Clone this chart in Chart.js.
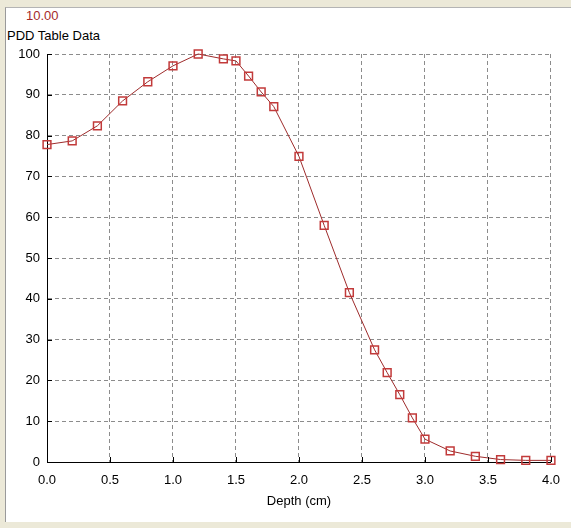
<!DOCTYPE html>
<html lang="en">
<head>
  <meta charset="UTF-8" />
  <title>PDD Table Data</title>
  <style>
    body {
      margin: 0;
      padding: 0;
      font-family: "Liberation Sans", Arial, Helvetica, sans-serif;
      font-size: 13px;
    }
    .frame {
      position: relative;
      width: 571px;
      height: 528px;
      background: #ece9d8;
      overflow: hidden;
    }
    .panel {
      position: absolute;
      left: 5px;
      top: 7px;
      width: 566px;
      height: 515px;
      background: #fff;
      border-left: 1px solid #9a9a9a;
      border-top: 1px solid #b4b4b4;
      box-sizing: border-box;
    }
    .label {
      position: absolute;
      line-height: 15px;
      white-space: nowrap;
    }
    #value { left: 26px; top: 8px; color: #a52a2a; }
    #name { left: 7px; top: 28px; color: #000; }
    canvas {
      position: absolute;
      left: 0;
      top: 0;
    }
  </style>
</head>
<body>
  <div class="frame">
    <div class="panel"></div>
    <div class="label" id="value">10.00</div>
    <div class="label" id="name">PDD Table Data</div>
    <canvas id="chart" width="571" height="528"></canvas>
  </div>

  <script src="https://cdn.jsdelivr.net/npm/chart.js"></script>
  <script>
    // depth in cm and percent depth dose
    const depth = [0, 0.2, 0.4, 0.6, 0.8, 1.0, 1.2, 1.4, 1.5, 1.6, 1.7, 1.8, 2.0,
                   2.2, 2.4, 2.6, 2.7, 2.8, 2.9, 3.0, 3.2, 3.4, 3.6, 3.8, 4.0];
    const dose = [77.8, 78.7, 82.4, 88.5, 93.2, 97.1, 100, 98.8, 98.3, 94.6, 90.7, 87.1, 74.9,
                  58.0, 41.5, 27.5, 21.9, 16.5, 10.8, 5.6, 2.7, 1.4, 0.6, 0.4, 0.4];
    const xTicks = [0, 0.5, 1.0, 1.5, 2.0, 2.5, 3.0, 3.5, 4.0];
    const yTicks = [0, 10, 20, 30, 40, 50, 60, 70, 80, 90, 100];

    Chart.defaults.font.family = '"Liberation Sans", Arial, sans-serif';
    Chart.defaults.font.size = 13;
    Chart.defaults.color = '#000';

    // short solid tick marks drawn inside the plot, like the original control
    const innerTicks = {
      id: 'innerTicks',
      afterDraw(chart) {
        const ctx = chart.ctx;
        const area = chart.chartArea;
        const xs = chart.scales.x, ys = chart.scales.y;
        ctx.save();
        ctx.strokeStyle = '#000';
        ctx.lineWidth = 1;
        ctx.beginPath();
        xTicks.forEach(v => {
          const px = Math.round(xs.getPixelForValue(v)) + 0.5;
          ctx.moveTo(px, area.bottom);
          ctx.lineTo(px, area.bottom - 5);
        });
        yTicks.forEach(v => {
          const py = Math.round(ys.getPixelForValue(v)) + 0.5;
          ctx.moveTo(area.left, py);
          ctx.lineTo(area.left + 5, py);
        });
        ctx.stroke();
        ctx.restore();
      }
    };

    const gridStyle = {
      color: '#8c8c8c',
      lineWidth: 1,
      drawTicks: false
    };

    new Chart(document.getElementById('chart'), {
      type: 'line',
      data: {
        datasets: [{
          label: 'PDD',
          data: depth.map((d, i) => ({ x: d, y: dose[i] })),
          borderColor: '#9e2b2b',
          borderWidth: 1,
          tension: 0,
          pointStyle: 'rect',
          pointRadius: 5.5,
          pointHoverRadius: 5.5,
          pointBorderWidth: 1.5,
          pointBorderColor: '#c23a3a',
          pointBackgroundColor: 'rgba(255,255,255,0)',
          clip: false
        }]
      },
      options: {
        responsive: false,
        animation: false,
        events: [],
        layout: { padding: { left: 0, right: 15, top: 54, bottom: 0 } },
        plugins: {
          legend: { display: false },
          tooltip: { enabled: false }
        },
        scales: {
          x: {
            type: 'linear',
            min: 0,
            max: 4,
            afterFit: s => { s.height = 66; },
            afterBuildTicks: s => { s.ticks = xTicks.map(v => ({ value: v })); },
            ticks: {
              padding: 11,
              maxRotation: 0,
              callback: v => Number(v).toFixed(1)
            },
            grid: gridStyle,
            border: { display: true, color: '#000', width: 1, dash: [4, 3] },
            title: {
              display: true,
              text: 'Depth (cm)',
              padding: { top: 0, bottom: 19 }
            }
          },
          y: {
            min: 0,
            max: 100,
            afterFit: s => { s.width = 47; },
            afterBuildTicks: s => { s.ticks = yTicks.map(v => ({ value: v })); },
            ticks: { padding: 7 },
            grid: gridStyle,
            border: { display: true, color: '#000', width: 1, dash: [4, 3] }
          }
        }
      },
      plugins: [innerTicks]
    });
  </script>
</body>
</html>
